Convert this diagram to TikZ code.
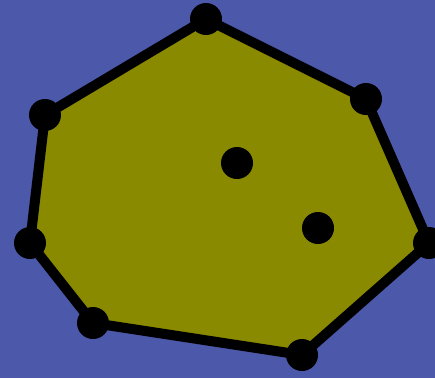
\documentclass[tikz,border=0pt]{standalone}
\usepackage{tikz}
\usetikzlibrary{positioning}
\definecolor{bgblue}{RGB}{76,88,170}
\definecolor{hullolive}{RGB}{138,138,0}
\tikzset{
  pt/.style={circle,fill=black,inner sep=0pt,minimum size=32pt},
  hulledge/.style={line width=10pt,draw=black,fill=hullolive,line join=round}
}
\begin{document}
\begin{tikzpicture}[x=1pt,y=-1pt]
  % background
  \fill[bgblue] (0,0) rectangle (435,378);
  \useasboundingbox (0,0) rectangle (435,378);
  % hull vertices
  \coordinate (p1) at (206,19);
  \coordinate (p2) at (366,99);
  \coordinate (p3) at (429,243);
  \coordinate (p4) at (302,355);
  \coordinate (p5) at (93,323);
  \coordinate (p6) at (30,243);
  \coordinate (p7) at (45,115);
  % hull
  \draw[hulledge] (p1) -- (p2) -- (p3) -- (p4) -- (p5) -- (p6) -- (p7) -- cycle;
  % points
  \foreach \i in {1,...,7}
    \node[pt] (v\i) at (p\i) {};
  \node[pt] (q1) at (237,163) {};
  \node[pt] (q2) at (318,228) {};
\end{tikzpicture}
\end{document}
